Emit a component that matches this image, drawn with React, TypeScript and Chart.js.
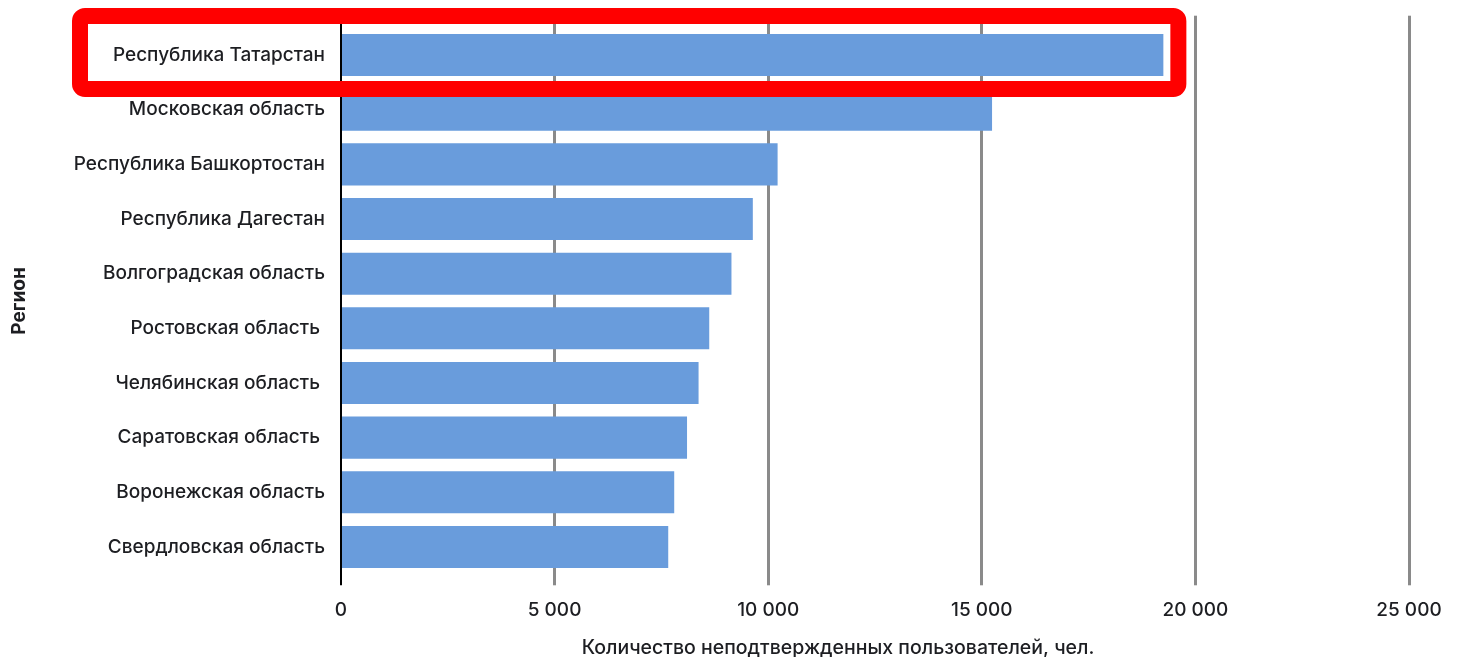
import React, { useEffect, useRef } from "react";
import { Chart, registerables } from "chart.js";

Chart.register(...registerables);

const regions = [
  "Республика Татарстан",
  "Московская область",
  "Республика Башкортостан",
  "Республика Дагестан",
  "Волгоградская область",
  "Ростовская область ",
  "Челябинская область ",
  "Саратовская область ",
  "Воронежская область",
  "Свердловская область",
];

const unconfirmedUsers = [19250, 15240, 10220, 9640, 9140, 8620, 8370, 8100, 7800, 7660];

const xTickValues = [0, 5000, 10000, 15000, 20000, 25000];

const xTitle = "Количество неподтвержденных пользователей, чел.";
const yTitle = "Регион";
const highlightIndex = 0;

const FONT = "Inter, 'Noto Sans', sans-serif";
const TEXT = "#1d1e22";

const fmt = (v: number) => String(v).replace(/\B(?=(\d{3})+(?!\d))/g, " ");

const gridColor = (ctx: any) => (ctx.tick && ctx.tick.value === 0 ? "#000000" : "#8a8a8a");
const gridWidth = (ctx: any) => (ctx.tick && ctx.tick.value === 0 ? 2 : 3);

const overlayPlugin = {
  id: "overlay",
  afterDraw(chart: any) {
    const { ctx, chartArea, scales } = chart;
    const x = scales.x;
    const y = scales.y;
    // x axis title
    ctx.save();
    ctx.fillStyle = TEXT;
    ctx.font = `500 19.5px ${FONT}`;
    ctx.textAlign = "center";
    ctx.textBaseline = "middle";
    ctx.fillText(xTitle, chartArea.left + 497, chartArea.bottom + 74);
    ctx.restore();
    // highlight box around row
    const yc = y.getPixelForValue(highlightIndex);
    const xr = x.getPixelForValue(unconfirmedUsers[highlightIndex]) + 15;
    const xl = chartArea.left - 261;
    const top = yc - 39;
    const bottom = yc + 34;
    ctx.save();
    ctx.strokeStyle = "#ff0000";
    ctx.lineWidth = 16;
    ctx.lineJoin = "round";
    ctx.beginPath();
    if (ctx.roundRect) ctx.roundRect(xl, top, xr - xl, bottom - top, 5);
    else ctx.rect(xl, top, xr - xl, bottom - top);
    ctx.stroke();
    ctx.restore();
  },
};

export default function App() {
  const ref = useRef<HTMLCanvasElement | null>(null);
  useEffect(() => {
    if (!ref.current) return;
    const chart = new Chart(ref.current, {
      type: "bar",
      data: {
        labels: regions,
        datasets: [
          {
            data: unconfirmedUsers,
            backgroundColor: "#699cdc",
            borderWidth: 0,
            barPercentage: 0.77,
            categoryPercentage: 1,
          },
        ],
      },
      options: {
        indexAxis: "y",
        responsive: false,
        animation: false,
        layout: { padding: { left: 0, right: 49, top: 16, bottom: 0 } },
        plugins: { legend: { display: false }, tooltip: { enabled: false } },
        scales: {
          x: {
            type: "linear",
            position: "bottom",
            min: 0,
            max: 25000,
            afterBuildTicks: (s: any) => {
              s.ticks = xTickValues.map((v) => ({ value: v }));
            },
            ticks: {
              padding: 14,
              color: TEXT,
              font: { family: FONT, size: 19, weight: "500" },
              callback: (v: any) => fmt(Number(v)),
            },
            grid: {
              color: gridColor,
              lineWidth: gridWidth,
              drawTicks: true,
              tickLength: 11,
              tickColor: gridColor,
              tickWidth: gridWidth,
            },
            border: { display: false },
            afterFit: (s: any) => {
              s.height = 82.7;
            },
          },
          x2: {
            type: "linear",
            position: "top",
            min: 0,
            max: 25000,
            afterBuildTicks: (s: any) => {
              s.ticks = xTickValues.map((v) => ({ value: v }));
            },
            ticks: { display: false },
            grid: {
              drawOnChartArea: false,
              drawTicks: true,
              tickLength: 12,
              tickColor: gridColor,
              tickWidth: gridWidth,
              color: gridColor,
              lineWidth: gridWidth,
            },
            border: { display: false },
            afterFit: (s: any) => {
              s.height = 11.7;
            },
          },
          y: {
            type: "category",
            grid: { display: false, drawTicks: false },
            border: { display: false },
            ticks: {
              padding: 16,
              color: TEXT,
              font: { family: FONT, size: 19, weight: "500" },
            },
            title: {
              display: true,
              text: yTitle,
              color: TEXT,
              font: { family: FONT, size: 19, weight: "bold" },
              padding: { top: 8, bottom: 0 },
            },
            afterFit: (s: any) => {
              s.width = 341;
            },
          },
        },
      },
      plugins: [overlayPlugin],
    } as any);
    return () => chart.destroy();
  }, []);
  return (
    <div style={{ position: "absolute", left: 0, top: 0, width: 1458, height: 657, background: "#fff" }}>
      <canvas ref={ref} width={1458} height={657} style={{ display: "block" }} />
    </div>
  );
}
